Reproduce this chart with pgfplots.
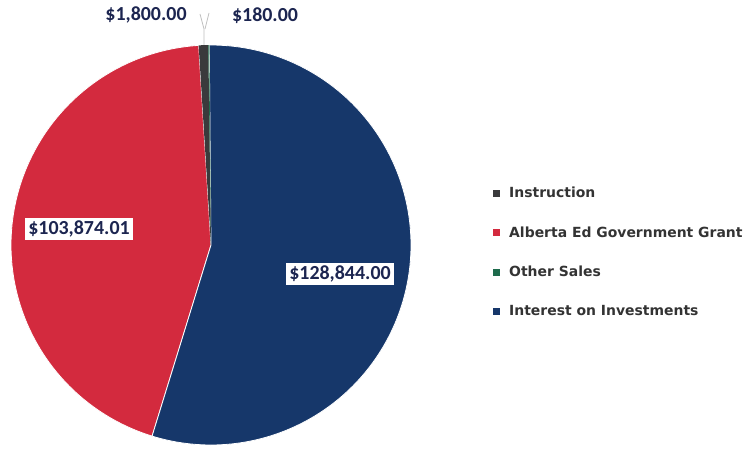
\documentclass[border=0pt]{standalone}
\usepackage{pgfplots}
\pgfplotsset{compat=1.18}
\usepackage{pgfplotstable}
\usepackage{fontspec}
\setmainfont{Carlito}
\newfontfamily\legfont{DejaVu Sans}

\definecolor{cInstr}{HTML}{3A3A3C}
\definecolor{cGrant}{HTML}{D32A3E}
\definecolor{cOther}{HTML}{1E6B4C}
\definecolor{cInter}{HTML}{16376A}
\definecolor{cLabel}{HTML}{1C2550}
\definecolor{cLegend}{HTML}{333333}

% revenue by source
\pgfplotstableread{
name value
Instruction 1800.00
Grant 103874.01
Other 180.00
Interest 128844.00
}\piedata

\pgfplotstablegetelem{0}{value}\of\piedata \let\vA\pgfplotsretval
\pgfplotstablegetelem{1}{value}\of\piedata \let\vB\pgfplotsretval
\pgfplotstablegetelem{2}{value}\of\piedata \let\vC\pgfplotsretval
\pgfplotstablegetelem{3}{value}\of\piedata \let\vD\pgfplotsretval

% slice angles, counterclockwise: Interest, Other, Instruction, Grant
\edef\tot{\fpeval{\vA+\vB+\vC+\vD}}
\edef\gTop{90.5}
\edef\gS{\fpeval{\gTop-360*\vD/\tot}}
\edef\gC{\fpeval{\gTop+360*\vC/\tot}}
\edef\gA{\fpeval{\gC+360*\vA/\tot}}
\edef\gE{\fpeval{\gS+360}}

\begin{document}
\begin{tikzpicture}
\begin{axis}[
    scale only axis,
    width=751bp, height=456bp,
    xmin=0, xmax=751, ymin=0, ymax=456,
    y dir=reverse,
    axis lines=none,
    clip=false,
    legend cell align=left,
    legend style={at={(axis cs:493,185)}, anchor=north west, draw=none, fill=none,
        font=\legfont\bfseries\fontsize{14}{14}\selectfont\color{cLegend},
        row sep=23.4bp, inner sep=0pt},
    legend image code/.code={\fill[#1,draw=none] (0bp,-3.5bp) rectangle (7bp,3.5bp);
        \path[draw=none,fill=none] (0bp,0bp) rectangle (14bp,0.1bp);},
]
\addlegendimage{fill=cInstr}
\addlegendentry{Instruction}
\addlegendimage{fill=cGrant}
\addlegendentry{Alberta Ed Government Grant}
\addlegendimage{fill=cOther}
\addlegendentry{Other Sales}
\addlegendimage{fill=cInter}
\addlegendentry{Interest on Investments}

\addplot[forget plot, fill=cGrant, draw=white, line width=0.8bp, domain=\gA:\gE, samples=120]
    ({211+200*cos(x)},{245-200*sin(x)}) -- (axis cs:211,245) -- cycle;
\addplot[forget plot, fill=cInter, draw=white, line width=0.8bp, domain=\gS:\gTop, samples=140]
    ({211+200*cos(x)},{245-200*sin(x)}) -- (axis cs:211,245) -- cycle;
\addplot[forget plot, fill=cInstr, draw=none, domain=\gC:\gA, samples=6]
    ({211+200*cos(x)},{245-200*sin(x)}) -- (axis cs:211,245) -- cycle;
\addplot[forget plot, fill=cOther, draw=none, domain=\gTop:\gC, samples=3]
    ({211+200*cos(x)},{245-200*sin(x)}) -- (axis cs:211,245) -- cycle;

% leader lines for the two small slices
\draw[gray!50, line width=0.8bp] (axis cs:200,14) -- (axis cs:204,29) -- (axis cs:204,45);
\draw[gray!50, line width=0.8bp] (axis cs:209,13) -- (axis cs:205,29);

\tikzset{lbl/.style={font=\fontsize{20}{20}\selectfont\bfseries, text=cLabel, inner sep=3bp}}
\node[lbl] at (axis cs:146,15) {\$1,800.00};
\node[lbl] at (axis cs:265,16) {\$180.00};
\node[lbl, fill=white] at (axis cs:79,229) {\$103,874.01};
\node[lbl, fill=white] at (axis cs:340,274) {\$128,844.00};
\end{axis}
\pgfresetboundingbox
\path (current axis.south west) rectangle (current axis.north east);
\end{tikzpicture}
\end{document}
